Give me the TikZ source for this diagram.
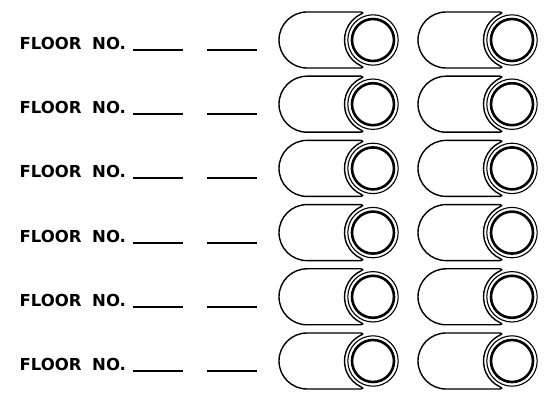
\documentclass[tikz,border=0pt]{standalone}
\usepackage{fontspec}
\setmainfont{DejaVu Sans}
\begin{document}
\begin{tikzpicture}[x=1pt,y=-1pt,
  lbl/.style={anchor=base west,inner sep=0pt,font=\fontsize{16.5}{20}\selectfont\bfseries},
  blank/.style={line width=2pt},
  pill/.style={line width=1.4pt,line join=round},
  ring/.style={line width=1.1pt},
  thickring/.style={line width=2.6pt}]
\useasboundingbox (0,0) rectangle (550,393);
\foreach \i in {0,...,5}{
  \pgfmathsetmacro{\cy}{40+64.2*\i}
  \pgfmathsetmacro{\by}{round(\cy+10)}
  \node[lbl] (floor\i) at (19.5,\by) {FLOOR};
  \node[lbl] (no\i) at (92,\by) {NO.};
  \coordinate (ba\i) at (133,\by);
  \coordinate (bb\i) at (183,\by);
  \coordinate (bc\i) at (207,\by);
  \coordinate (bd\i) at (257,\by);
  \draw[blank] (ba\i) -- (bb\i);
  \draw[blank] (bc\i) -- (bd\i);
  \foreach \cx/\k in {373/a,512/b}{
    \coordinate (c\k\i) at (\cx,\cy);
    \draw[pill] ([shift={(-66,-28)}]c\k\i) -- ([shift={(-12,-28)}]c\k\i)
      .. controls ([shift={(-9.5,-28)}]c\k\i) and ([shift={(-9.5,-26.5)}]c\k\i) .. ([shift={(-12.05,-25.83)}]c\k\i)
      arc[start angle=-115,end angle=-245,radius=28.5]
      .. controls ([shift={(-9.5,26.5)}]c\k\i) and ([shift={(-9.5,28)}]c\k\i) .. ([shift={(-12,28)}]c\k\i)
      -- ([shift={(-66,28)}]c\k\i)
      arc[start angle=90,end angle=270,radius=28] -- cycle;
    \draw[ring] (c\k\i) circle[radius=25.2];
    \draw[thickring] (c\k\i) circle[radius=21];
  }
}
\end{tikzpicture}
\end{document}
